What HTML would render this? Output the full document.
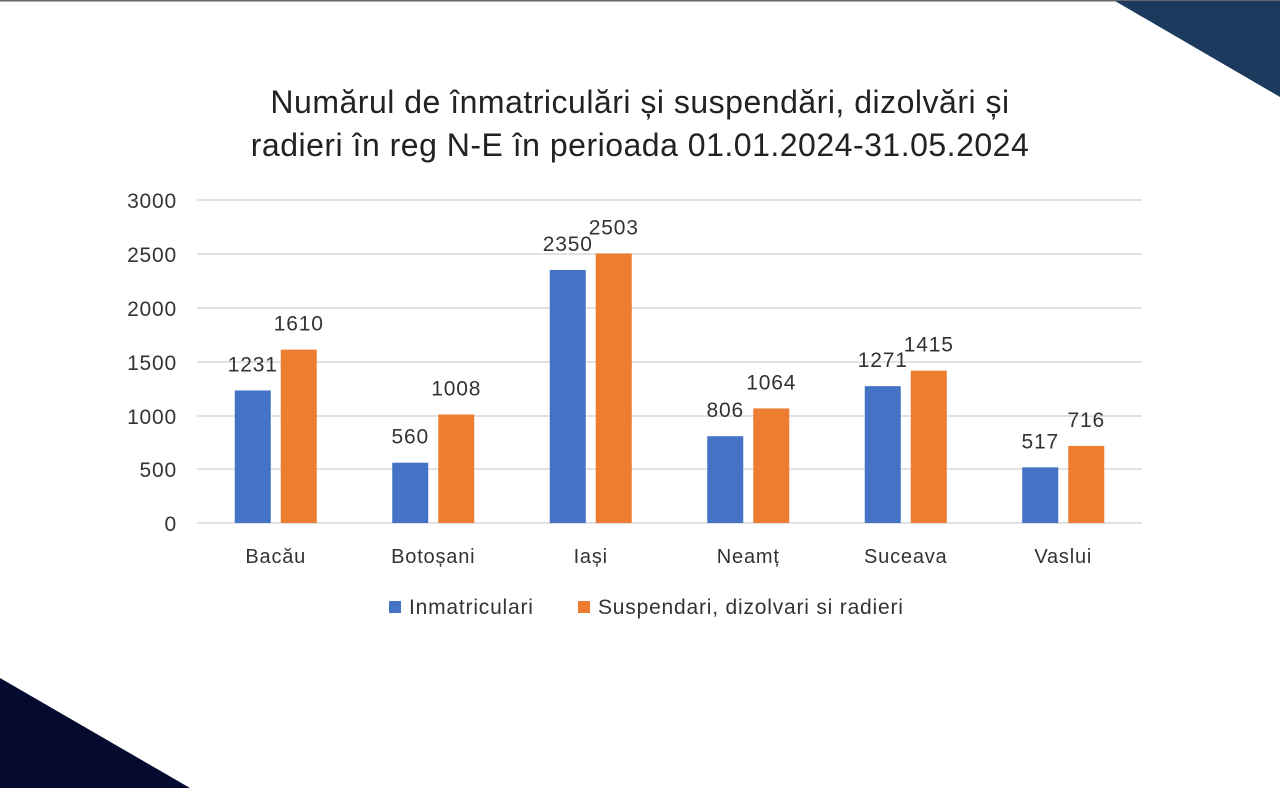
<!DOCTYPE html>
<html><head><style>
body{margin:0;width:1280px;height:788px;overflow:hidden;background:#fff}
</style></head><body>
<svg width="1280" height="788" xmlns="http://www.w3.org/2000/svg" font-family="Liberation Sans, sans-serif">
<rect x="0" y="0" width="1280" height="1.5" fill="#666"/>
<polygon points="1115,1 1280,1 1280,97" fill="#1c3a5e"/>
<polygon points="0,678 0,788 190,788" fill="#050b2e"/>
<text x="640" y="113" font-size="32" letter-spacing="0.5" text-anchor="middle" fill="#222">Numărul de înmatriculări și suspendări, dizolvări și</text>
<text x="640" y="156" font-size="32" letter-spacing="0.5" text-anchor="middle" fill="#222">radieri în reg N-E în perioada 01.01.2024-31.05.2024</text>
<g stroke="#d9d9d9" stroke-width="1.5">
<line x1="197" x2="1142" y1="200" y2="200"/><line x1="197" x2="1142" y1="254" y2="254"/>
<line x1="197" x2="1142" y1="308" y2="308"/><line x1="197" x2="1142" y1="362" y2="362"/>
<line x1="197" x2="1142" y1="416" y2="416"/><line x1="197" x2="1142" y1="469" y2="469"/>
<line x1="197" x2="1142" y1="523" y2="523"/>
</g>
<g font-size="21" letter-spacing="0.8" fill="#333" text-anchor="end">
<text x="177" y="208">3000</text><text x="177" y="262">2500</text><text x="177" y="316">2000</text>
<text x="177" y="370">1500</text><text x="177" y="424">1000</text><text x="177" y="477">500</text><text x="177" y="531">0</text>
</g>
<g id="bars"></g>
<g font-size="21" letter-spacing="0.8" fill="#333" text-anchor="middle" id="lbl"></g>
<g font-size="20" letter-spacing="0.8" fill="#333" text-anchor="middle" id="cat"></g>
<rect x="389" y="601" width="12" height="12" fill="#4472c4"/>
<text x="409" y="614" font-size="21" letter-spacing="0.8" fill="#333">Inmatriculari</text>
<rect x="578" y="601" width="12" height="12" fill="#ed7d31"/>
<text x="598" y="614" font-size="21" letter-spacing="0.8" fill="#333">Suspendari, dizolvari si radieri</text>
<script>
var d=[["Bacău",1231,1610],["Botoșani",560,1008],["Iași",2350,2503],["Neamț",806,1064],["Suceava",1271,1415],["Vaslui",517,716]];
var ns="http://www.w3.org/2000/svg",b=document.getElementById("bars"),l=document.getElementById("lbl"),c=document.getElementById("cat");
function el(p,t,a,tx){var e=document.createElementNS(ns,t);for(var k in a)e.setAttribute(k,a[k]);if(tx)e.textContent=tx;p.appendChild(e);}
var s=323/3000;
d.forEach(function(r,i){var cx=197+157.5*(i+0.5);
var h1=r[1]*s,h2=r[2]*s;
el(b,"rect",{x:cx-41,y:523-h1,width:36,height:h1,fill:"#4472c4"});
el(b,"rect",{x:cx+5,y:523-h2,width:36,height:h2,fill:"#ed7d31"});
el(l,"text",{x:cx-23,y:523-h1-19},""+r[1]);
el(l,"text",{x:cx+23,y:523-h2-19},""+r[2]);
el(c,"text",{x:cx,y:563},r[0]);
});
</script>
</svg>
</body></html>
